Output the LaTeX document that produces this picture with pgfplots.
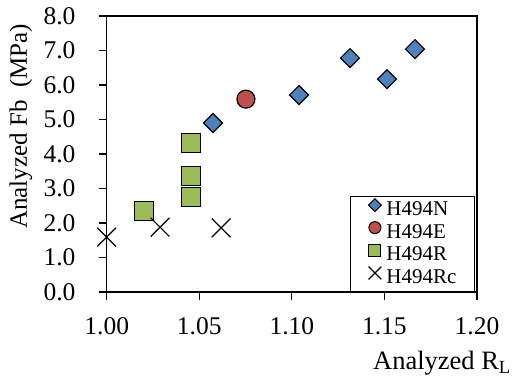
\documentclass[border=0pt]{standalone}
\usepackage{fontspec}
\setmainfont{Liberation Serif}
\usepackage{pgfplots}
\pgfplotsset{compat=1.18}
\definecolor{cN}{HTML}{4F81BD}
\definecolor{cE}{HTML}{C0504D}
\definecolor{cR}{HTML}{9BBB59}
\begin{document}
\begin{tikzpicture}
\useasboundingbox (-106.7pt,-86pt) rectangle (405.3pt,292pt);
\begin{axis}[
  scale only axis, width=370.3pt, height=276pt,
  xmin=1, xmax=1.2, ymin=0, ymax=8,
  xtick={1.00,1.05,1.10,1.15,1.20}, ytick={0,1,2,3,4,5,6,7,8},
  minor tick num=0,
  tick align=outside, major tick length=8pt,
  xtick pos=bottom, ytick pos=left,
  axis line style={line width=1.2pt},
  tick style={line width=1.2pt, black},
  ticklabel style={font=\rmfamily\fontsize{25.5}{25.5}\selectfont, inner sep=0pt},
  yticklabel style={anchor=east, xshift=-23pt},
  xticklabel style={anchor=north, yshift=-17pt},
  /pgf/number format/assume math mode=true,
  xticklabel={\pgfmathprintnumber[fixed,fixed zerofill,precision=2]{\tick}},
  yticklabel={\pgfmathprintnumber[fixed,fixed zerofill,precision=1]{\tick}},
  xlabel={Analyzed R\textsubscript{L}},
  xlabel style={at={(axis description cs:1.0918,-0.2826)}, anchor=base east, inner sep=0pt, font=\fontsize{26.5}{26.5}\selectfont},
  ylabel={Analyzed Fb\ \ (MPa)},
  ylabel style={at={(axis description cs:-0.2314,0.60)}, anchor=center, inner sep=0pt, font=\fontsize{25}{25}\selectfont},
  clip mode=individual,
  legend style={at={(axis description cs:0.9944,0.0)}, anchor=south east, draw=black, line width=1pt,
    inner xsep=0pt, inner ysep=2pt, font=\fontsize{21}{21}\selectfont,
    nodes={inner sep=0pt, text height=15pt, text depth=6pt}},
  legend cell align=left,
]
\addplot[only marks, mark=square*, mark size=6.7pt, mark options={rotate=45, fill=cN, draw=black, line width=1.2pt}, forget plot]
  coordinates {(1.0574,4.90) (1.1039,5.71) (1.1314,6.78) (1.1514,6.17) (1.1665,7.04)};
\addplot[only marks, mark=*, mark size=9pt, mark options={fill=cE, draw=black, line width=1.2pt}, forget plot]
  coordinates {(1.0752,5.59)};
\addplot[only marks, mark=square*, mark size=9.5pt, mark options={fill=cR, draw=black, line width=1.2pt}, forget plot]
  coordinates {(1.0455,4.32) (1.0455,3.36) (1.0455,2.75) (1.0202,2.35)};
\addplot[only marks, mark=x, mark size=13.2pt, mark options={draw=black, line width=1.2pt}, forget plot]
  coordinates {(1.0,1.59) (1.0288,1.88) (1.0618,1.86)};
\addlegendimage{legend image code/.code={\path (0pt,0pt) (35pt,0pt); \draw[mark=square*, mark size=4.5pt, mark options={rotate=45, fill=cN, draw=black, line width=1pt}] plot coordinates {(24pt,6pt)};}}
\addlegendentry{\makebox[88pt][l]{H494N}}
\addlegendimage{legend image code/.code={\path (0pt,0pt) (35pt,0pt); \draw[mark=*, mark size=6pt, mark options={fill=cE, draw=black, line width=1pt}] plot coordinates {(24pt,6pt)};}}
\addlegendentry{\makebox[88pt][l]{H494E}}
\addlegendimage{legend image code/.code={\path (0pt,0pt) (35pt,0pt); \draw[mark=square*, mark size=6pt, mark options={fill=cR, draw=black, line width=1pt}] plot coordinates {(24pt,6pt)};}}
\addlegendentry{\makebox[88pt][l]{H494R}}
\addlegendimage{legend image code/.code={\path (0pt,0pt) (35pt,0pt); \draw[mark=x, mark size=9pt, mark options={draw=black, line width=1.2pt}] plot coordinates {(24pt,6pt)};}}
\addlegendentry{\makebox[88pt][l]{H494Rc}}
\end{axis}
\end{tikzpicture}
\end{document}
